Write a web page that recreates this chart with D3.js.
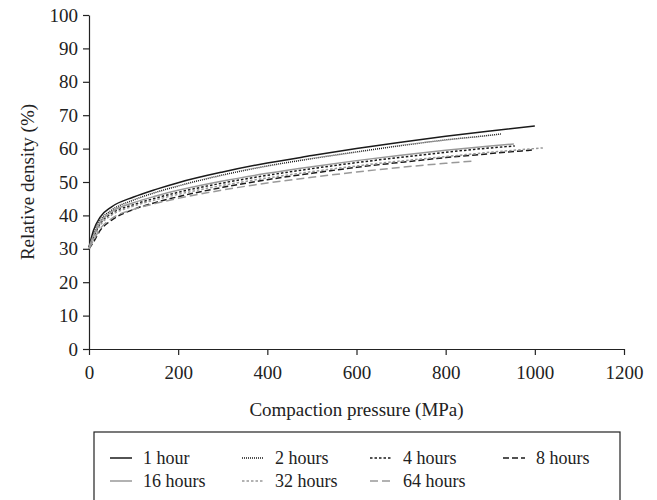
<!DOCTYPE html>
<html>
<body style="margin:0">
    <svg id="chart" width="657" height="500" font-family="Liberation Serif"></svg>
    <script src="https://d3js.org/d3.v7.min.js"></script>
    <script>
        // pressures (MPa) where the curves were read
        const pressures = [0, 10, 25, 50, 100, 150, 200, 300, 400, 500, 600, 700, 800, 900];

        // relative density (%) per series, last pair is the curve end point
        const hour1 = [30.5, 35.5, 39.5, 42.5, 45.5, 47.8, 49.8, 53.0, 55.7, 57.9, 60.0, 61.9, 63.7, 65.3];
        const hour1End = [1000, 66.8];
        const hour2 = [30.5, 34.5, 38.5, 41.5, 44.6, 46.9, 48.8, 52.1, 54.8, 57.0, 59.0, 60.9, 62.6, 64.0];
        const hour2End = [924, 64.4];
        const hour4 = [30.5, 33.5, 37.5, 40.5, 43.2, 45.2, 46.9, 49.7, 52.0, 54.0, 55.8, 57.4, 58.9, 60.2];
        const hour4End = [955, 60.8];
        const hour8 = [30.0, 32.0, 35.5, 38.5, 41.8, 43.9, 45.6, 48.4, 50.7, 52.6, 54.4, 55.9, 57.3, 58.5];
        const hour8End = [996, 59.6];
        const hour16 = [30.5, 34.0, 38.0, 41.0, 43.8, 45.8, 47.5, 50.3, 52.6, 54.6, 56.4, 58.0, 59.5, 60.8];
        const hour16End = [953, 61.4];
        const hour32 = [30.0, 33.0, 37.0, 40.0, 42.8, 44.7, 46.3, 49.0, 51.2, 53.1, 54.8, 56.3, 57.6, 58.9];
        const hour32End = [1018, 60.2];
        const hour64 = [30.0, 32.5, 36.0, 39.0, 41.8, 43.6, 45.1, 47.6, 49.7, 51.4, 53.0, 54.4, 55.6];
        const hour64End = [863, 56.3];

        const labels = ['1 hour', '2 hours', '4 hours', '8 hours', '16 hours', '32 hours', '64 hours'];
        const xTicks = [0, 200, 400, 600, 800, 1000, 1200];
        const yTicks = [0, 10, 20, 30, 40, 50, 60, 70, 80, 90, 100];

        const series = [
            { name: labels[0], vals: hour1, end: hour1End, color: '#1a1a1a', dash: null },
            { name: labels[1], vals: hour2, end: hour2End, color: '#1a1a1a', dash: '1,1' },
            { name: labels[2], vals: hour4, end: hour4End, color: '#1a1a1a', dash: '2.5,2' },
            { name: labels[3], vals: hour8, end: hour8End, color: '#1a1a1a', dash: '6,3' },
            { name: labels[4], vals: hour16, end: hour16End, color: '#999', dash: null },
            { name: labels[5], vals: hour32, end: hour32End, color: '#999', dash: '2.5,2' },
            { name: labels[6], vals: hour64, end: hour64End, color: '#999', dash: '8,4' }
        ];

        const FONT = 'Liberation Serif';

        const svg = d3.select('#chart');
        const margin = { left: 89, top: 15, right: 33, bottom: 151 };
        const width = 657 - margin.left - margin.right;
        const height = 500 - margin.top - margin.bottom;

        const g = svg.append('g')
            .attr('transform', `translate(${margin.left}, ${margin.top})`);

        const x = d3.scaleLinear().domain([0, 1200]).range([0, width]);
        const y = d3.scaleLinear().domain([0, 100]).range([height, 0]);

        function styleAxis(sel) {
            sel.attr('font-family', FONT).attr('font-size', 19);
            sel.selectAll('path, line').attr('stroke', '#222').attr('stroke-width', 1.2);
            sel.selectAll('text')
                .attr('font-family', FONT)
                .attr('font-size', 19)
                .attr('fill', '#222');
        }

        // axes
        g.append('g')
            .attr('transform', `translate(0, ${height})`)
            .call(d3.axisBottom(x).tickValues(xTicks).tickFormat(d3.format('d'))
                .tickSize(6).tickSizeOuter(0).tickPadding(11))
            .call(styleAxis);

        g.append('g')
            .call(d3.axisLeft(y).tickValues(yTicks).tickSize(6).tickSizeOuter(0).tickPadding(5))
            .call(styleAxis);

        // curves
        const line = d3.line()
            .x(d => x(d[0]))
            .y(d => y(d[1]))
            .curve(d3.curveMonotoneX);

        series.forEach(s => {
            const pts = s.vals.map((v, i) => [pressures[i], v]);
            pts.push(s.end);
            g.append('path')
                .datum(pts)
                .attr('fill', 'none')
                .attr('stroke', s.color)
                .attr('stroke-width', 1.5)
                .attr('stroke-dasharray', s.dash)
                .attr('d', line);
        });

        // axis titles
        svg.append('text')
            .attr('x', margin.left + width / 2)
            .attr('y', 416)
            .attr('text-anchor', 'middle')
            .attr('font-family', FONT)
            .attr('font-size', 19)
            .attr('fill', '#222')
            .text('Compaction pressure (MPa)');

        svg.append('text')
            .attr('transform', `translate(34, ${margin.top + height / 2}) rotate(-90)`)
            .attr('text-anchor', 'middle')
            .attr('font-family', FONT)
            .attr('font-size', 19)
            .attr('fill', '#222')
            .text('Relative density (%)');

        // legend
        svg.append('rect')
            .attr('x', 94)
            .attr('y', 432)
            .attr('width', 526)
            .attr('height', 80)
            .attr('fill', 'none')
            .attr('stroke', '#222')
            .attr('stroke-width', 1.2);

        const colX = [110, 242, 370, 503];
        const rowY = [458, 481];
        series.forEach((s, i) => {
            const cx = colX[i % 4];
            const cy = rowY[Math.floor(i / 4)];
            svg.append('line')
                .attr('x1', cx).attr('x2', cx + 22)
                .attr('y1', cy).attr('y2', cy)
                .attr('stroke', s.color)
                .attr('stroke-width', 1.5)
                .attr('stroke-dasharray', s.dash);
            svg.append('text')
                .attr('x', cx + 33)
                .attr('y', cy + 6)
                .attr('font-family', FONT)
                .attr('font-size', 18)
                .attr('fill', '#222')
                .text(s.name);
        });
    </script>
</body>
</html>
